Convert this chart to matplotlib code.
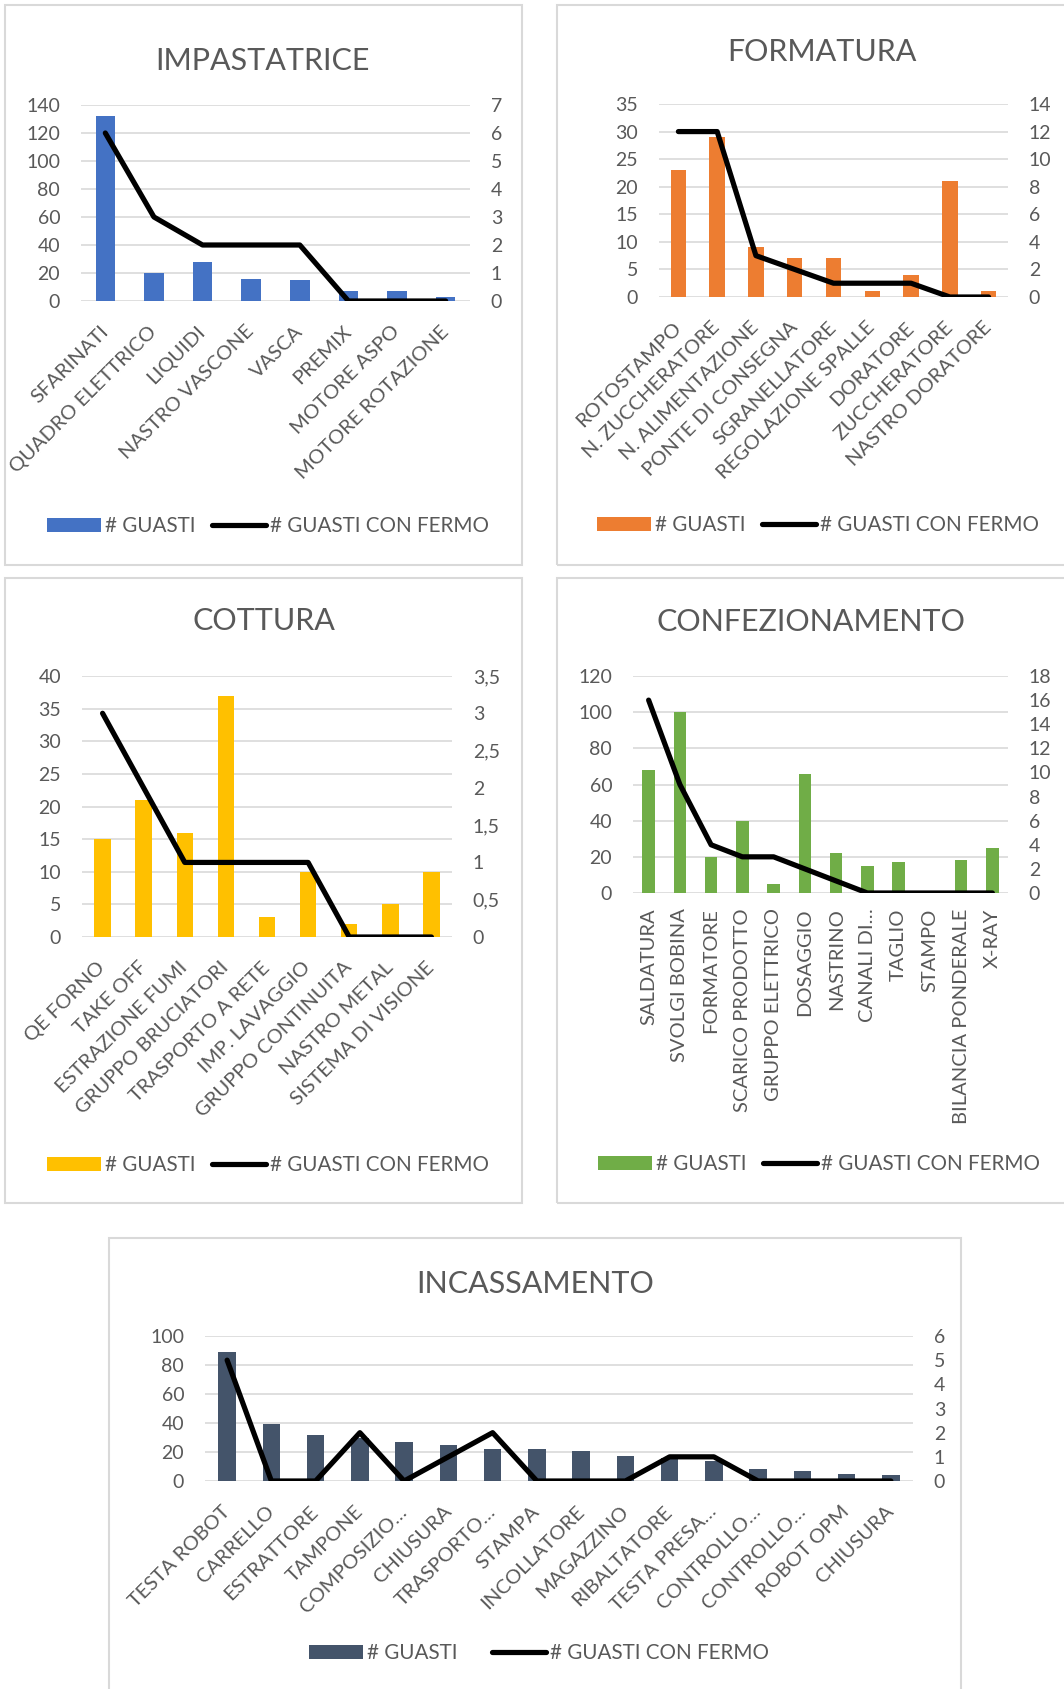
import matplotlib
matplotlib.use("Agg")
import matplotlib.pyplot as plt
from matplotlib.patches import Rectangle, Patch
from matplotlib.lines import Line2D
import numpy as np

plt.rcParams['font.family'] = ['Lato', 'DejaVu Sans']

# ---------------- DATA ----------------
imp_cats = ["SFARINATI", "QUADRO ELETTRICO", "LIQUIDI", "NASTRO VASCONE", "VASCA",
            "PREMIX", "MOTORE ASPO", "MOTORE ROTAZIONE"]
imp_guasti = [132, 20, 28, 16, 15, 7, 7, 3]
imp_fermo = [6, 3, 2, 2, 2, 0, 0, 0]

for_cats = ["ROTOSTAMPO", "N. ZUCCHERATORE", "N. ALIMENTAZIONE", "PONTE DI CONSEGNA",
            "SGRANELLATORE", "REGOLAZIONE SPALLE", "DORATORE", "ZUCCHERATORE", "NASTRO DORATORE"]
for_guasti = [23, 29, 9, 7, 7, 1, 4, 21, 1]
for_fermo = [12, 12, 3, 2, 1, 1, 1, 0, 0]

cot_cats = ["QE FORNO", "TAKE OFF", "ESTRAZIONE FUMI", "GRUPPO BRUCIATORI", "TRASPORTO A RETE",
            "IMP. LAVAGGIO", "GRUPPO CONTINUITA", "NASTRO METAL", "SISTEMA DI VISIONE"]
cot_guasti = [15, 21, 16, 37, 3, 10, 2, 5, 10]
cot_fermo = [3, 2, 1, 1, 1, 1, 0, 0, 0]

con_cats = ["SALDATURA", "SVOLGI BOBINA", "FORMATORE", "SCARICO PRODOTTO", "GRUPPO ELETTRICO",
            "DOSAGGIO", "NASTRINO", "CANALI DI…", "TAGLIO", "STAMPO", "BILANCIA PONDERALE", "X-RAY"]
con_guasti = [68, 100, 20, 40, 5, 66, 22, 15, 17, 0, 18, 25]
con_fermo = [16, 9, 4, 3, 3, 2, 1, 0, 0, 0, 0, 0]

inc_cats = ["TESTA ROBOT", "CARRELLO", "ESTRATTORE", "TAMPONE", "COMPOSIZIO…", "CHIUSURA",
            "TRASPORTO…", "STAMPA", "INCOLLATORE", "MAGAZZINO", "RIBALTATORE", "TESTA PRESA…",
            "CONTROLLO…", "CONTROLLO…", "ROBOT OPM", "CHIUSURA"]
inc_guasti = [89, 39, 32, 30, 27, 25, 22, 22, 21, 17, 16, 14, 8, 7, 5, 4]
inc_fermo = [5, 0, 0, 2, 0, 1, 2, 0, 0, 0, 1, 1, 0, 0, 0, 0]

imp_left = [0, 20, 40, 60, 80, 100, 120, 140]
imp_right = [0, 1, 2, 3, 4, 5, 6, 7]
for_left = [0, 5, 10, 15, 20, 25, 30, 35]
for_right = [0, 2, 4, 6, 8, 10, 12, 14]
cot_left = [0, 5, 10, 15, 20, 25, 30, 35, 40]
cot_right = [0, 0.5, 1, 1.5, 2, 2.5, 3, 3.5]
cot_right_labels = ["0", "0,5", "1", "1,5", "2", "2,5", "3", "3,5"]
con_left = [0, 20, 40, 60, 80, 100, 120]
con_right = [0, 2, 4, 6, 8, 10, 12, 14, 16, 18]
inc_left = [0, 20, 40, 60, 80, 100]
inc_right = [0, 1, 2, 3, 4, 5, 6]

titles = ["IMPASTATRICE", "FORMATURA", "COTTURA", "CONFEZIONAMENTO", "INCASSAMENTO"]
legend_labels = ["# GUASTI", "# GUASTI CON FERMO"]

# ---------------- LAYOUT ----------------
W, H = 1064, 1689
fig = plt.figure(figsize=(W / 100, H / 100), dpi=100)
TXT = '#595959'
GRID = '#d9d9d9'

def rect(x0, y0, x1, y1):
    return [x0 / W, 1 - y1 / H, (x1 - x0) / W, (y1 - y0) / H]

# panel borders
for (x0, y0, x1, y1) in [(5, 5, 522, 565), (557, 5, 1075, 565), (5, 578, 522, 1203),
                         (557, 578, 1075, 1203), (109, 1238, 961, 1700)]:
    fig.patches.append(Rectangle((x0 / W, 1 - y1 / H), (x1 - x0) / W, (y1 - y0) / H,
                                 transform=fig.transFigure, fill=False, edgecolor=GRID,
                                 linewidth=1.5, zorder=0))

def panel(box, cats, guasti, fermo, left_ticks, right_ticks, color, rot, xpad,
          right_labels=None, title=None, title_xy=None, leg_xy=None, colspace=0.8):
    ax = fig.add_axes(rect(*box))
    n = len(cats)
    x = np.arange(n)
    ax.bar(x, guasti, width=0.4, color=color, zorder=2)
    ax.set_xlim(-0.5, n - 0.5)
    ax.set_ylim(left_ticks[0], left_ticks[-1])
    ax.set_yticks(left_ticks)
    ax.yaxis.grid(True, color=GRID, linewidth=1.2, zorder=0)
    ax.set_axisbelow(True)
    for s in ax.spines.values():
        s.set_visible(False)
    ax.tick_params(axis='y', length=0, pad=15, labelsize=14, labelcolor=TXT)
    ax.set_xticks(x)
    ax.set_xticklabels(cats, rotation=rot, ha='right', va='center',
                       rotation_mode='anchor', fontsize=14.5, color=TXT)
    ax.tick_params(axis='x', length=0, pad=xpad)
    ax2 = ax.twinx()
    ax2.plot(x, fermo, color='black', linewidth=3.75, solid_joinstyle='round',
             solid_capstyle='round', zorder=3)
    ax2.set_ylim(right_ticks[0], right_ticks[-1])
    ax2.set_yticks(right_ticks)
    if right_labels is not None:
        ax2.set_yticklabels(right_labels)
    for s in ax2.spines.values():
        s.set_visible(False)
    ax2.tick_params(axis='y', length=0, pad=15, labelsize=14, labelcolor=TXT)
    fig.text(title_xy[0] / W, 1 - title_xy[1] / H, title, fontsize=22, color=TXT,
             ha='center', va='center')
    handles = [Patch(facecolor=color, edgecolor='none'),
               Line2D([0], [0], color='black', linewidth=3.75, solid_capstyle='round')]
    fig.legend(handles, legend_labels, loc='center',
               bbox_to_anchor=(leg_xy[0] / W, 1 - leg_xy[1] / H), ncol=2, frameon=False,
               fontsize=14.9, labelcolor=TXT, handlelength=2.6, handletextpad=0.2,
               columnspacing=colspace, borderpad=0)
    return ax

panel((81, 105, 470, 301), imp_cats, imp_guasti, imp_fermo, imp_left, imp_right,
      '#4472C4', 45, 20, title=titles[0], title_xy=(262, 61), leg_xy=(268, 526))
panel((659, 104, 1008, 297), for_cats, for_guasti, for_fermo, for_left, for_right,
      '#ED7D31', 45, 20, title=titles[1], title_xy=(822, 52), leg_xy=(818, 525))
panel((82, 676, 452, 937), cot_cats, cot_guasti, cot_fermo, cot_left, cot_right,
      '#FFC000', 45, 20, right_labels=cot_right_labels, title=titles[2],
      title_xy=(264, 621), leg_xy=(268, 1165))
panel((633, 676, 1008, 893), con_cats, con_guasti, con_fermo, con_left, con_right,
      '#70AD47', 90, 11, title=titles[3], title_xy=(811, 622), leg_xy=(819, 1164))
panel((205, 1336, 913, 1481), inc_cats, inc_guasti, inc_fermo, inc_left, inc_right,
      '#44546A', 45, 20, title=titles[4], title_xy=(535, 1284), leg_xy=(539, 1653),
      colspace=1.7)

fig.savefig('out.png', dpi=100, facecolor='white')
